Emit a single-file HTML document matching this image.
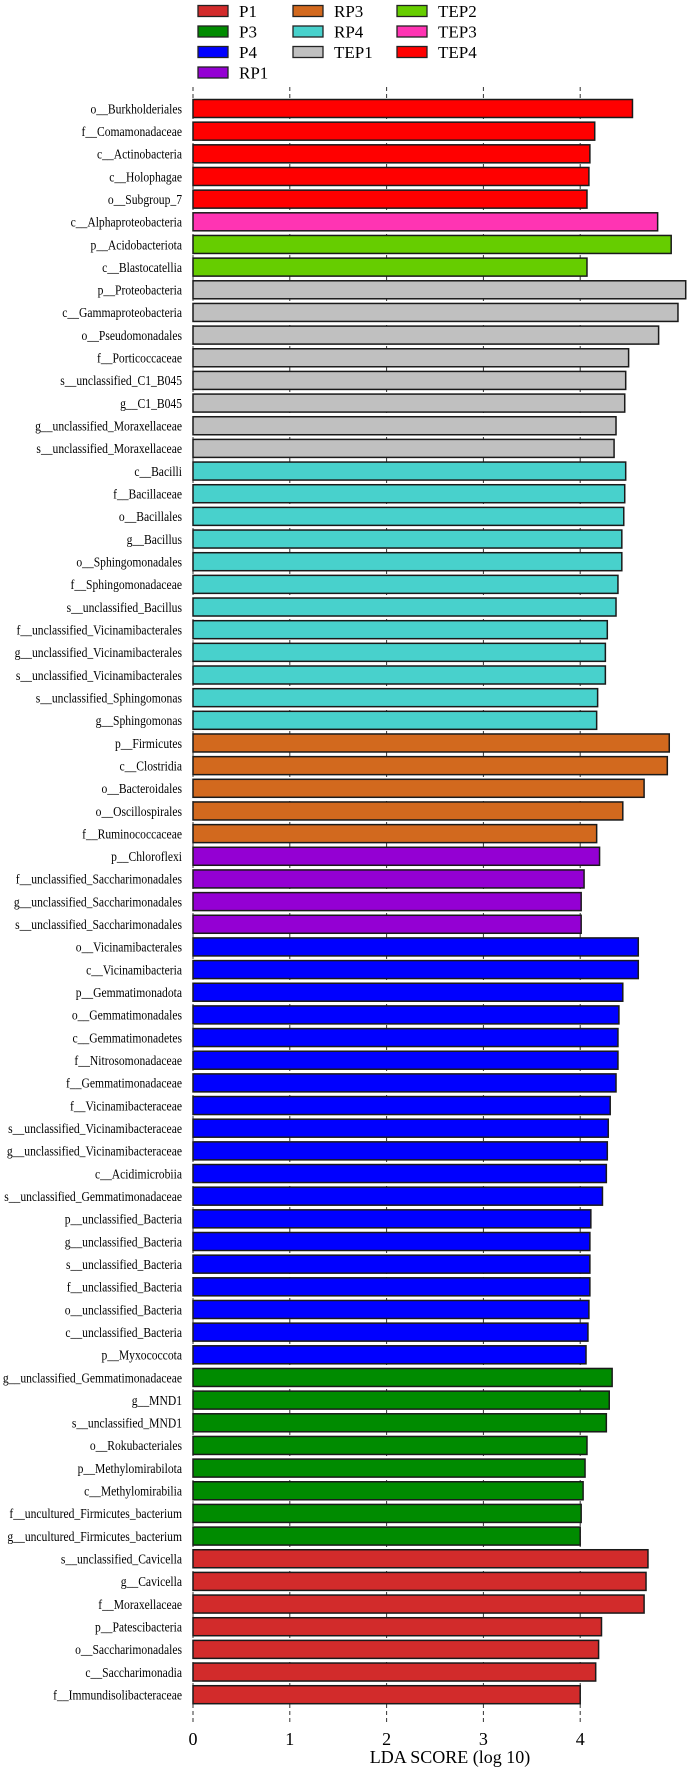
<!DOCTYPE html>
<html><head><meta charset="utf-8"><style>
html,body{margin:0;padding:0;background:#fff;}
svg{display:block;font-family:"Liberation Serif",serif;}
</style></head><body>
<svg id="chart" width="690" height="1770" viewBox="0 0 690 1770">
<g id="legend"></g>
<g id="grid"></g>
<g id="bars"></g>
<g id="labels"></g>
<g id="xaxis"></g>
<text x="450" y="1763" text-anchor="middle" font-size="18">LDA SCORE (log 10)</text>
</svg>
<script>
const groups = ["P1","P3","P4","RP1","RP3","RP4","TEP1","TEP2","TEP3","TEP4"];
const groupColors = ["#d22b2b","#008b00","#0000ff","#9400d3","#d2691e","#48d1cc","#c0c0c0","#66cd00","#ff34b3","#ff0000"];
const taxa = ["o__Burkholderiales","f__Comamonadaceae","c__Actinobacteria","c__Holophagae","o__Subgroup_7","c__Alphaproteobacteria","p__Acidobacteriota","c__Blastocatellia","p__Proteobacteria","c__Gammaproteobacteria","o__Pseudomonadales","f__Porticoccaceae","s__unclassified_C1_B045","g__C1_B045","g__unclassified_Moraxellaceae","s__unclassified_Moraxellaceae","c__Bacilli","f__Bacillaceae","o__Bacillales","g__Bacillus","o__Sphingomonadales","f__Sphingomonadaceae","s__unclassified_Bacillus","f__unclassified_Vicinamibacterales","g__unclassified_Vicinamibacterales","s__unclassified_Vicinamibacterales","s__unclassified_Sphingomonas","g__Sphingomonas","p__Firmicutes","c__Clostridia","o__Bacteroidales","o__Oscillospirales","f__Ruminococcaceae","p__Chloroflexi","f__unclassified_Saccharimonadales","g__unclassified_Saccharimonadales","s__unclassified_Saccharimonadales","o__Vicinamibacterales","c__Vicinamibacteria","p__Gemmatimonadota","o__Gemmatimonadales","c__Gemmatimonadetes","f__Nitrosomonadaceae","f__Gemmatimonadaceae","f__Vicinamibacteraceae","s__unclassified_Vicinamibacteraceae","g__unclassified_Vicinamibacteraceae","c__Acidimicrobiia","s__unclassified_Gemmatimonadaceae","p__unclassified_Bacteria","g__unclassified_Bacteria","s__unclassified_Bacteria","f__unclassified_Bacteria","o__unclassified_Bacteria","c__unclassified_Bacteria","p__Myxococcota","g__unclassified_Gemmatimonadaceae","g__MND1","s__unclassified_MND1","o__Rokubacteriales","p__Methylomirabilota","c__Methylomirabilia","f__uncultured_Firmicutes_bacterium","g__uncultured_Firmicutes_bacterium","s__unclassified_Cavicella","g__Cavicella","f__Moraxellaceae","p__Patescibacteria","o__Saccharimonadales","c__Saccharimonadia","f__Immundisolibacteraceae"];
const taxonGroup = ["TEP4","TEP4","TEP4","TEP4","TEP4","TEP3","TEP2","TEP2","TEP1","TEP1","TEP1","TEP1","TEP1","TEP1","TEP1","TEP1","RP4","RP4","RP4","RP4","RP4","RP4","RP4","RP4","RP4","RP4","RP4","RP4","RP3","RP3","RP3","RP3","RP3","RP1","RP1","RP1","RP1","P4","P4","P4","P4","P4","P4","P4","P4","P4","P4","P4","P4","P4","P4","P4","P4","P4","P4","P4","P3","P3","P3","P3","P3","P3","P3","P3","P1","P1","P1","P1","P1","P1","P1"];
const ldaScores = [4.54,4.15,4.10,4.09,4.07,4.80,4.94,4.07,5.09,5.01,4.81,4.50,4.47,4.46,4.37,4.35,4.47,4.46,4.45,4.43,4.43,4.39,4.37,4.28,4.26,4.26,4.18,4.17,4.92,4.90,4.66,4.44,4.17,4.20,4.04,4.01,4.01,4.60,4.60,4.44,4.40,4.39,4.39,4.37,4.31,4.29,4.28,4.27,4.23,4.11,4.10,4.10,4.10,4.09,4.08,4.06,4.33,4.30,4.27,4.07,4.05,4.03,4.01,4.00,4.70,4.68,4.66,4.22,4.19,4.16,4.00];
const xTicks = [0,1,2,3,4];

const NS="http://www.w3.org/2000/svg";
const X0=193, UNIT=96.8, Y0=108.5, STEP=22.66, BH=18;
const xs = v => X0 + v*UNIT;
const ys = i => Y0 + i*STEP;
function mk(tag, attrs, parent){const e=document.createElementNS(NS,tag);for(const k in attrs)e.setAttribute(k,attrs[k]);parent.appendChild(e);return e;}

// legend
const lg=document.getElementById('legend');
groups.forEach((g,i)=>{
  let c,r;
  if(i<4){c=0;r=i;}else if(i<7){c=1;r=i-4;}else{c=2;r=i-7;}
  const lx=[198,293,397][c], ly=11+r*20.5;
  const s=mk('rect',{x:lx,y:ly-5.5,width:30,height:11,fill:groupColors[i],stroke:'#222','stroke-width':1.3},lg);
  
  
  const t=mk('text',{x:lx+41,y:ly+6,'font-size':17},lg);
  t.textContent=g;
  
  
});

// grid
const gr=document.getElementById('grid');
xTicks.forEach(v=>{
  const l=mk('line',{x1:xs(v),x2:xs(v),y1:87,y2:1722,stroke:'#333','stroke-width':1,'stroke-dasharray':'4,3'},gr);
  
  
});

// bars and labels
const bg=document.getElementById('bars'), lb=document.getElementById('labels');
taxa.forEach((name,i)=>{
  const gi=groups.indexOf(taxonGroup[i]);
  const r=mk('rect',{x:xs(0),y:ys(i)-BH/2,width:xs(ldaScores[i])-xs(0),height:BH,fill:groupColors[gi],stroke:'#1a1a1a','stroke-width':1.5},bg);
  
  
  const t=mk('text',{x:0,y:0,'text-anchor':'end','font-size':13.5,transform:'translate(182,'+(ys(i)+4.8)+') scale(0.86,1)'},lb);
  t.textContent=name;
  
  
});

// x axis
const xa=document.getElementById('xaxis');
xTicks.forEach(v=>{
  const t=mk('text',{x:xs(v),y:1745,'text-anchor':'middle','font-size':18},xa);
  t.textContent=String(v);
  
  
});
</script>
</body></html>
